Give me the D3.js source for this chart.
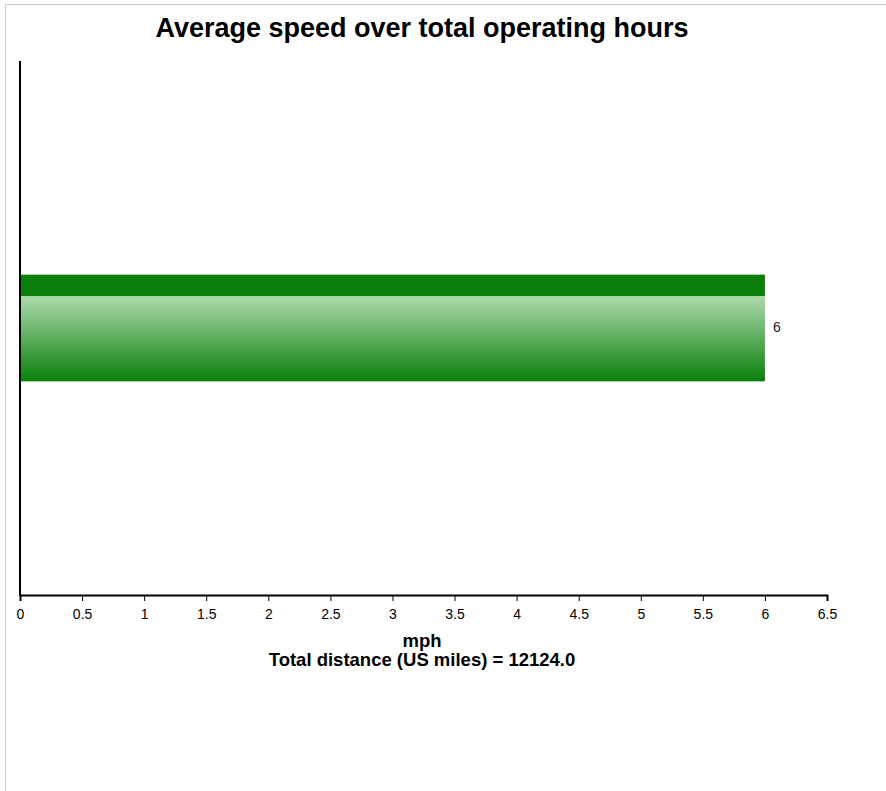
<!DOCTYPE html>
<html><head><meta charset="utf-8">
<script src="https://cdn.jsdelivr.net/npm/d3@7"></script>
<style>
html,body{margin:0;padding:0;background:#fff;}
svg{position:absolute;left:5px;top:4px;border-left:1px solid #ccc;border-top:1px solid #ccc;}
text{font-family:"Liberation Sans",Arial,sans-serif;}
</style></head><body>
<script>
const categories = ["Average speed"];
const values = [6];
const xTicks = [0,0.5,1,1.5,2,2.5,3,3.5,4,4.5,5,5.5,6,6.5];
const titleText = "Average speed over total operating hours";
const xLabel = "mph";
const subLabel = "Total distance (US miles) = 12124.0";

const W = 881, H = 787;
const ox = 5, oy = 4;
const svg = d3.select("body").append("svg").attr("width", W).attr("height", H);
const g = svg.append("g").attr("transform", `translate(${-ox-1},${-oy-1})`);

const x = d3.scaleLinear().domain([0, 6.5]).range([20, 827]);
const y = d3.scaleBand().domain(categories).range([61, 595]).paddingInner(0.667).paddingOuter(0.667);

const defs = svg.append("defs");
const grad = defs.append("linearGradient").attr("id","barGrad").attr("x1",0).attr("y1",0).attr("x2",0).attr("y2",1);
grad.append("stop").attr("offset","0%").attr("stop-color","#0a800a");
grad.append("stop").attr("offset","20%").attr("stop-color","#0a800a");
grad.append("stop").attr("offset","20.5%").attr("stop-color","#acd9ac");
grad.append("stop").attr("offset","100%").attr("stop-color","#0a800a");

g.append("text").attr("x", 422).attr("y", 37).attr("text-anchor","middle")
  .attr("font-size", 27).attr("font-weight","bold").attr("fill","#000").text(titleText);

g.selectAll("rect.bar").data(values).join("rect").attr("class","bar")
  .attr("x", x(0)).attr("y", (d,i)=>y(categories[i]))
  .attr("width", d=>x(d)-x(0)).attr("height", y.bandwidth())
  .attr("fill","url(#barGrad)");

g.selectAll("text.val").data(values).join("text").attr("class","val")
  .attr("x", d=>x(d)+8).attr("y", (d,i)=>y(categories[i])+y.bandwidth()/2+4)
  .attr("font-size", 14).attr("fill","#222").text(d=>d);

const xAxis = g.append("g").attr("transform","translate(0,595)")
  .call(d3.axisBottom(x).tickValues(xTicks).tickFormat(d=>String(d)).tickSizeOuter(0).tickSize(6));
xAxis.select(".domain").attr("stroke","#000").attr("stroke-width",2);
xAxis.selectAll(".tick line").attr("stroke","#000");
xAxis.selectAll(".tick text").attr("font-size",14).attr("fill","#000").attr("y",11).attr("dy","0.9em")
  .style("font-family",'"Liberation Sans",Arial,sans-serif');

g.append("line").attr("x1",20).attr("x2",20).attr("y1",61).attr("y2",596)
  .attr("stroke","#000").attr("stroke-width",2);

g.append("text").attr("x", 422).attr("y", 647).attr("text-anchor","middle")
  .attr("font-size",18.5).attr("font-weight","bold").text(xLabel);
g.append("text").attr("x", 422).attr("y", 666).attr("text-anchor","middle")
  .attr("font-size",18.5).attr("font-weight","bold").text(subLabel);
</script>
</body></html>
